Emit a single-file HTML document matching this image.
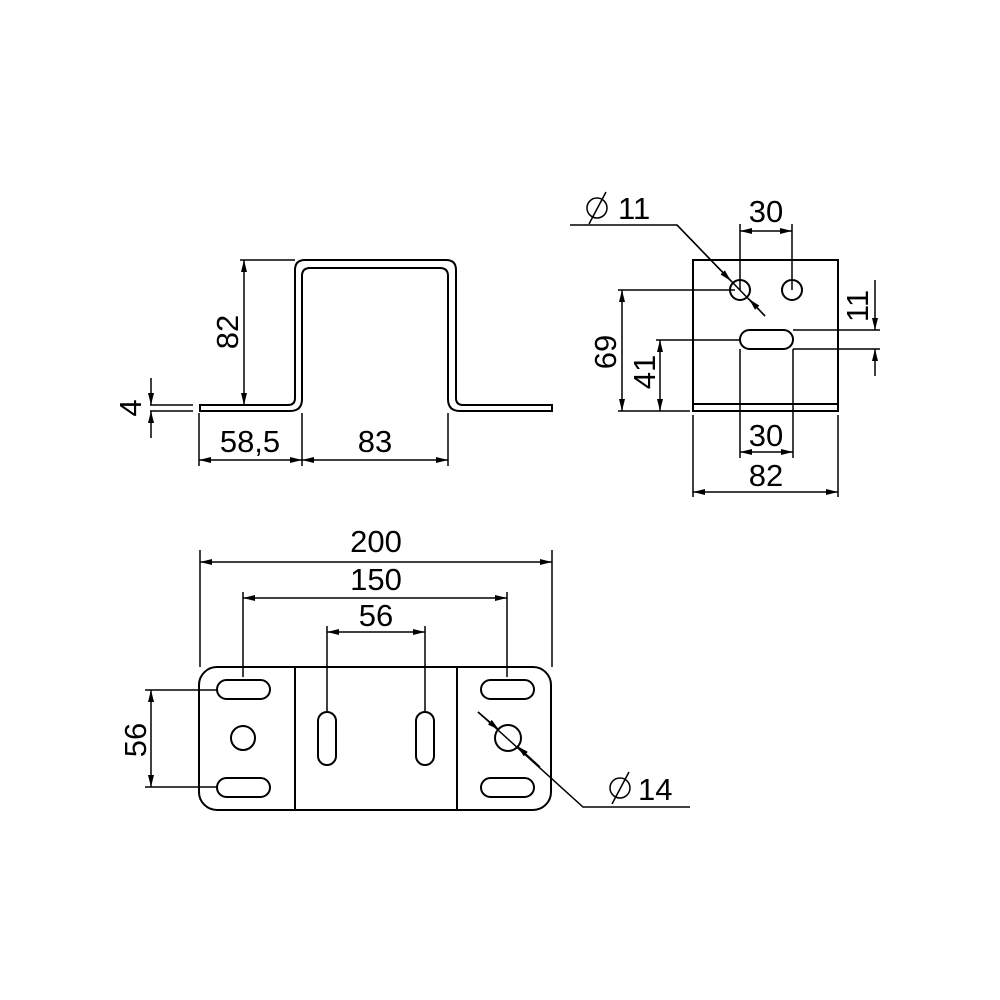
<!DOCTYPE html>
<html><head><style>
html,body{margin:0;padding:0;background:#fff}
svg{display:block}
text{font-family:"Liberation Sans",sans-serif;font-size:31px;fill:#000}
</style></head><body>
<svg width="1000" height="1000" viewBox="0 0 1000 1000" xmlns="http://www.w3.org/2000/svg">
<defs>
<marker id="a" viewBox="0 0 12 6" refX="12" refY="3" markerWidth="12" markerHeight="6" orient="auto-start-reverse" markerUnits="userSpaceOnUse"><path d="M0,0 L12,3 L0,6 Z" fill="#000"/></marker>
</defs>
<g fill="none" stroke="#000" stroke-width="2">
<path d="M200,405 H288 Q295,405 295,398 V270 Q295,260 305,260 H446 Q456,260 456,270 V398 Q456,405 463,405 H552 V411 H460 Q448,411 448,399 V276 Q448,268 440,268 H310 Q302,268 302,276 V399 Q302,411 290,411 H200 Z"/>
<line x1="150" y1="405" x2="193" y2="405" stroke-width="1.5"/>
<line x1="150" y1="411" x2="193" y2="411" stroke-width="1.5"/>
<line x1="240" y1="260" x2="295" y2="260" stroke-width="1.5"/>
</g>
<g fill="none" stroke="#000" stroke-width="1.5">
<line x1="151" y1="378" x2="151" y2="405" marker-end="url(#a)"/>
<line x1="151" y1="438" x2="151" y2="411" marker-end="url(#a)"/>
<line x1="244" y1="260" x2="244" y2="405" marker-start="url(#a)" marker-end="url(#a)"/>
<line x1="199" y1="413" x2="199" y2="466"/>
<line x1="302" y1="413" x2="302" y2="466"/>
<line x1="448" y1="413" x2="448" y2="466"/>
<line x1="199" y1="460" x2="302" y2="460" marker-start="url(#a)" marker-end="url(#a)"/>
<line x1="302" y1="460" x2="448" y2="460" marker-start="url(#a)" marker-end="url(#a)"/>
</g>
<text x="250" y="452" text-anchor="middle">58,5</text>
<text x="375" y="452" text-anchor="middle">83</text>
<text transform="translate(238,332) rotate(-90)" text-anchor="middle">82</text>
<text transform="translate(141,408) rotate(-90)" text-anchor="middle">4</text>

<g fill="none" stroke="#000" stroke-width="2">
<rect x="693" y="260" width="145" height="151"/>
<line x1="693" y1="404" x2="838" y2="404"/>
<circle cx="740" cy="290" r="10"/>
<circle cx="792" cy="290" r="10"/>
<rect x="740" y="330" width="53" height="19" rx="9.5"/>
</g>
<g fill="none" stroke="#000" stroke-width="1.5">
<line x1="740" y1="224" x2="740" y2="290"/>
<line x1="792" y1="224" x2="792" y2="290"/>
<line x1="740" y1="231" x2="792" y2="231" marker-start="url(#a)" marker-end="url(#a)"/>
<polyline points="570,225 677,225 765,316"/>
<line x1="677" y1="225" x2="731" y2="281" marker-end="url(#a)"/>
<line x1="765" y1="316" x2="749" y2="299" marker-end="url(#a)"/>
<line x1="618" y1="290" x2="735" y2="290"/>
<line x1="618" y1="411" x2="690" y2="411"/>
<line x1="622" y1="290" x2="622" y2="411" marker-start="url(#a)" marker-end="url(#a)"/>
<line x1="656" y1="340" x2="740" y2="340"/>
<line x1="660" y1="340" x2="660" y2="411" marker-start="url(#a)" marker-end="url(#a)"/>
<line x1="793" y1="330" x2="880" y2="330"/>
<line x1="793" y1="349" x2="880" y2="349"/>
<line x1="875" y1="280" x2="875" y2="330" marker-end="url(#a)"/>
<line x1="875" y1="376" x2="875" y2="349" marker-end="url(#a)"/>
<line x1="740" y1="349" x2="740" y2="458"/>
<line x1="793" y1="349" x2="793" y2="458"/>
<line x1="740" y1="452" x2="793" y2="452" marker-start="url(#a)" marker-end="url(#a)"/>
<line x1="693" y1="415" x2="693" y2="497"/>
<line x1="838" y1="415" x2="838" y2="497"/>
<line x1="693" y1="492" x2="838" y2="492" marker-start="url(#a)" marker-end="url(#a)"/>
</g>
<text x="766" y="222" text-anchor="middle">30</text>
<text x="618" y="219">11</text>
<g fill="none" stroke="#000" stroke-width="1.5"><circle cx="597" cy="208" r="10"/><line x1="589" y1="224" x2="606" y2="192"/></g>
<text transform="translate(616,352) rotate(-90)" text-anchor="middle">69</text>
<text transform="translate(655,372) rotate(-90)" text-anchor="middle">41</text>
<text transform="translate(868,306) rotate(-90)" text-anchor="middle">11</text>
<text x="766" y="446" text-anchor="middle">30</text>
<text x="766" y="486" text-anchor="middle">82</text>

<g fill="none" stroke="#000" stroke-width="2">
<rect x="199" y="667" width="352" height="143" rx="18"/>
<line x1="295" y1="667" x2="295" y2="810"/>
<line x1="457" y1="667" x2="457" y2="810"/>
<rect x="217" y="680" width="53" height="19" rx="9.5"/>
<rect x="217" y="778" width="53" height="19" rx="9.5"/>
<rect x="481" y="680" width="53" height="19" rx="9.5"/>
<rect x="481" y="778" width="53" height="19" rx="9.5"/>
<circle cx="243" cy="738" r="12"/>
<circle cx="508" cy="738" r="13"/>
<rect x="318" y="712" width="18" height="53" rx="9"/>
<rect x="416" y="712" width="18" height="53" rx="9"/>
</g>
<g fill="none" stroke="#000" stroke-width="1.5">
<line x1="200" y1="550" x2="200" y2="667"/>
<line x1="552" y1="550" x2="552" y2="667"/>
<line x1="200" y1="562" x2="552" y2="562" marker-start="url(#a)" marker-end="url(#a)"/>
<line x1="243" y1="592" x2="243" y2="677"/>
<line x1="507" y1="592" x2="507" y2="677"/>
<line x1="243" y1="598" x2="507" y2="598" marker-start="url(#a)" marker-end="url(#a)"/>
<line x1="327" y1="626" x2="327" y2="712"/>
<line x1="425" y1="626" x2="425" y2="712"/>
<line x1="327" y1="632" x2="425" y2="632" marker-start="url(#a)" marker-end="url(#a)"/>
<line x1="145" y1="690" x2="218" y2="690"/>
<line x1="145" y1="787" x2="218" y2="787"/>
<line x1="151" y1="690" x2="151" y2="787" marker-start="url(#a)" marker-end="url(#a)"/>
<polyline points="478,712 583,807 690,807"/>
<line x1="478" y1="712" x2="499" y2="730" marker-end="url(#a)"/>
<line x1="540" y1="767" x2="517" y2="746" marker-end="url(#a)"/>
</g>
<text x="376" y="552" text-anchor="middle">200</text>
<text x="376" y="590" text-anchor="middle">150</text>
<text x="376" y="626" text-anchor="middle">56</text>
<text transform="translate(146,740) rotate(-90)" text-anchor="middle">56</text>
<text x="638" y="800">14</text>
<g fill="none" stroke="#000" stroke-width="1.5"><circle cx="620" cy="788" r="10"/><line x1="612" y1="804" x2="629" y2="772"/></g>
</svg>
</body></html>
